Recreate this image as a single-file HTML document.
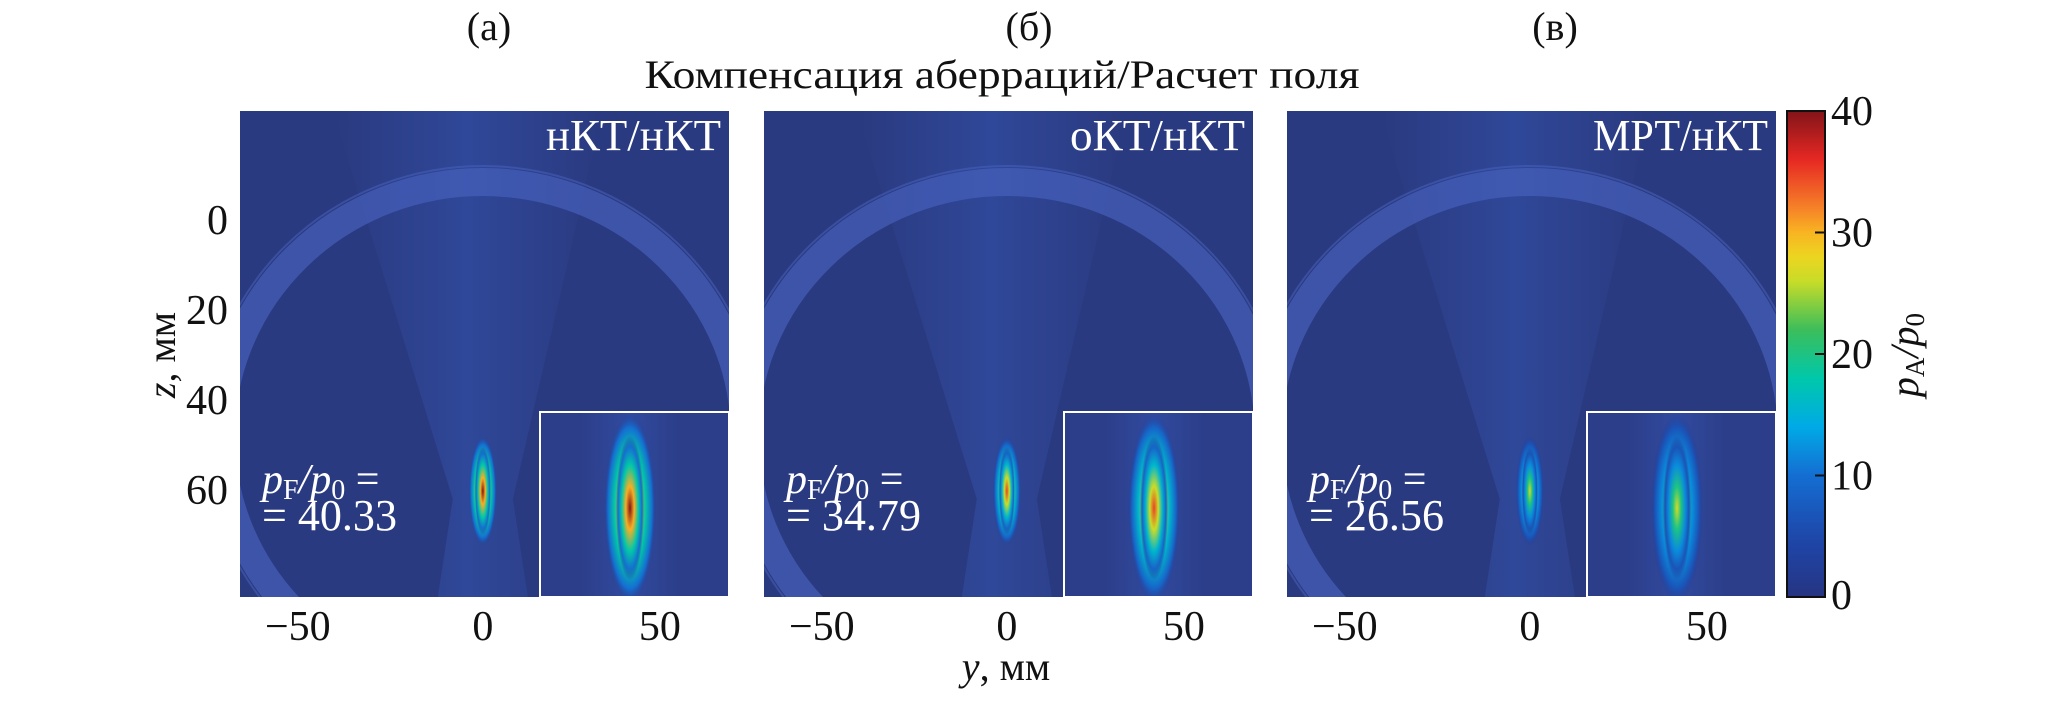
<!DOCTYPE html>
<html><head><meta charset="utf-8">
<style>
html,body{margin:0;padding:0;background:#fff;}
body{width:2066px;height:723px;overflow:hidden;position:relative;font-family:"Liberation Serif",serif;}
svg{position:absolute;left:0;top:0;}
</style></head>
<body>
<svg id="fig" width="2066" height="723" viewBox="0 0 2066 723"></svg>
<script>
const panelLabels = ["(а)","(б)","(в)"];
const panelTitles = ["нКТ/нКТ","оКТ/нКТ","МРТ/нКТ"];
const peakValues = [40.33, 34.79, 26.56];
const focusDepthMm = [62, 62, 62];
const focusLateralMm = [0, 0, 0];
const xTicks = [-50, 0, 50];
const zTicks = [0, 20, 40, 60];
const cbTicks = [0, 10, 20, 30, 40];

const NS = "http://www.w3.org/2000/svg";
const svg = document.getElementById('fig');
function el(tag, attrs, parent){const e=document.createElementNS(NS,tag);for(const k in attrs)e.setAttribute(k,attrs[k]);(parent||svg).appendChild(e);return e;}

function jet(v){
  const stops=[[0,[38,52,130]],[0.12,[30,70,170]],[0.25,[20,110,210]],[0.35,[0,170,230]],[0.45,[0,200,170]],[0.55,[60,190,90]],[0.65,[200,220,40]],[0.72,[250,210,30]],[0.8,[245,130,40]],[0.9,[230,40,35]],[1,[130,20,25]]];
  for(let i=1;i<stops.length;i++){if(v<=stops[i][0]){const a=stops[i-1],b=stops[i],t=(v-a[0])/(b[0]-a[0]);const c=a[1].map((x,j)=>Math.round(x+(b[1][j]-x)*t));return `rgb(${c})`;}}
  return 'rgb(130,20,25)';
}
const cbMax=40;

const panelX0=[240,764,1287];
const PW=489, PT=111, PB=597;
function xScale(p,mm){return panelX0[p]+(mm+68.6)*3.54;}
function zScale(mm){return 220+mm*4.5;}

const defs=el('defs',{});
panelX0.forEach((x0,p)=>{
  const g=el('radialGradient',{id:'fg'+p,cx:'50%',cy:'50%',r:'50%'},defs);
  const pk=peakValues[p]/cbMax;
  [[0,pk],[0.3,pk*0.75],[0.6,pk*0.45],[0.85,pk*0.25],[1,0.05]].forEach(s=>{
    el('stop',{offset:s[0],'stop-color':jet(s[1]),'stop-opacity':s[0]==1?0:1},g);
  });
  const cp=el('clipPath',{id:'cp'+p},defs);
  el('rect',{x:x0,y:PT,width:PW,height:PB-PT},cp);
  const ci=el('clipPath',{id:'ci'+p},defs);
  el('rect',{x:x0+300,y:412,width:PW-300,height:PB-412},ci);
});
const bg=el('linearGradient',{id:'beam',x1:0,y1:0,x2:1,y2:0},defs);
el('stop',{offset:0,'stop-color':'#3a5cc0','stop-opacity':0},bg);
el('stop',{offset:0.5,'stop-color':'#3a62c8','stop-opacity':0.35},bg);
el('stop',{offset:1,'stop-color':'#3a5cc0','stop-opacity':0},bg);

panelX0.forEach((x0,p)=>{
  const g=el('g',{'clip-path':`url(#cp${p})`});
  
  
  el('rect',{x:x0,y:PT,width:PW,height:PB-PT,fill:'#2a3a80'},g);
  const cx=xScale(p,0);
  el('path',{d:`M${cx-150},${PT} L${cx+120},${PT} L${cx+30},${zScale(62)} L${cx+45},${PB} L${cx-45},${PB} L${cx-30},${zScale(62)} Z`,fill:'url(#beam)'},g);
  // skull
  el('ellipse',{cx:cx,cy:436,rx:262,ry:254,fill:'none',stroke:'#4660bb','stroke-width':28,'stroke-opacity':0.7},g);
  el('ellipse',{cx:cx,cy:436,rx:278,ry:270,fill:'none',stroke:'#4a64bf','stroke-width':2,'stroke-opacity':0.5},g);
  const fx=xScale(p,focusLateralMm[p]), fz=zScale(focusDepthMm[p]);
  el('ellipse',{cx:fx,cy:fz-8,rx:14,ry:55,fill:'url(#fg'+p+')'},g);
  const fe=el('ellipse',{cx:fx,cy:fz-8,rx:8,ry:44,fill:'url(#fg'+p+')'},g);
  
  
  const ig=el('g',{'clip-path':`url(#ci${p})`},g);
  
  
  el('rect',{x:x0+300,y:412,width:PW-300,height:PB-412,fill:'#2c3e8a'},ig);
  el('rect',{x:x0+340,y:412,width:100,height:PB-412,fill:'url(#beam)'},ig);
  el('ellipse',{cx:x0+390,cy:508,rx:26,ry:95,fill:'url(#fg'+p+')'},ig);
  el('ellipse',{cx:x0+390,cy:508,rx:14,ry:72,fill:'url(#fg'+p+')'},ig);
  el('rect',{x:x0+300,y:412,width:PW-300,height:PB-412,fill:'none',stroke:'#fff','stroke-width':2},g);
  const t=el('text',{x:x0+PW-8,y:150,'text-anchor':'end','font-size':44,fill:'#fff',textLength:175,lengthAdjust:'spacingAndGlyphs'});
  t.textContent=panelTitles[p];
  
  
  const r1=el('text',{x:x0+22,y:493,'font-size':42,fill:'#fff','font-style':'italic'});
  
  
  r1.innerHTML='p<tspan font-size="28" font-style="normal" dy="6">F</tspan><tspan dy="-6">/p</tspan><tspan font-size="28" font-style="normal" dy="6">0</tspan><tspan font-style="normal" dy="-6"> =</tspan>';
  const r2=el('text',{x:x0+22,y:530,'font-size':44,fill:'#fff',textLength:135,lengthAdjust:'spacingAndGlyphs'});
  r2.textContent='= '+peakValues[p].toFixed(2);
  
  
  xTicks.forEach(v=>{
    const tx=el('text',{x:xScale(p,v)+(v<0?-8:0),y:640,'text-anchor':'middle','font-size':42,fill:'#111'});
    tx.textContent=v<0?'\u2212'+(-v):String(v);
    
    
  });
  const pl=el('text',{x:[489,1029,1555][p],y:40,'text-anchor':'middle','font-size':40,fill:'#111'});
  pl.textContent=panelLabels[p];
  
  
});
zTicks.forEach(v=>{
  const t=el('text',{x:228,y:zScale(v)+14,'text-anchor':'end','font-size':42,fill:'#111'});
  t.textContent=String(v);
  
  
});
const yl=el('text',{x:0,y:0,transform:'translate(175,355) rotate(-90)','text-anchor':'middle','font-size':40,fill:'#111'});
yl.innerHTML='<tspan font-style="italic">z</tspan>, мм';


const xl=el('text',{x:1006,y:680,'text-anchor':'middle','font-size':40,fill:'#111'});
xl.innerHTML='<tspan font-style="italic">y</tspan>, мм';


const st=el('text',{x:1002,y:88,'text-anchor':'middle','font-size':40,fill:'#111',textLength:715,lengthAdjust:'spacingAndGlyphs'});
st.textContent='Компенсация аберраций/Расчет поля';



const CBX=1787, CBW=38, CBT=111, CBB=597;
const cg=el('linearGradient',{id:'cbg',x1:0,y1:1,x2:0,y2:0},defs);
for(let i=0;i<=20;i++){el('stop',{offset:i/20,'stop-color':jet(i/20)},cg);}
const cb=el('rect',{x:CBX,y:CBT,width:CBW,height:CBB-CBT,fill:'url(#cbg)',stroke:'#111','stroke-width':2});


function cbScale(v){return CBB-(v/cbMax)*(CBB-CBT);}
cbTicks.forEach(v=>{
  el('line',{x1:CBX+CBW-10,x2:CBX+CBW,y1:cbScale(v),y2:cbScale(v),stroke:'#111','stroke-width':2});
  const t=el('text',{x:CBX+CBW+6,y:Math.min(cbScale(v)+14,CBB+12),'font-size':42,fill:'#111'});
  t.textContent=String(v);
  
  
});
const cl=el('text',{x:0,y:0,transform:'translate(1918,355) rotate(-90)','text-anchor':'middle','font-size':40,fill:'#111','font-style':'italic'});
cl.innerHTML='p<tspan font-size="27" font-style="normal" dy="6">A</tspan><tspan dy="-6">/p</tspan><tspan font-size="27" font-style="normal" dy="6">0</tspan>';


</script>
</body></html>
